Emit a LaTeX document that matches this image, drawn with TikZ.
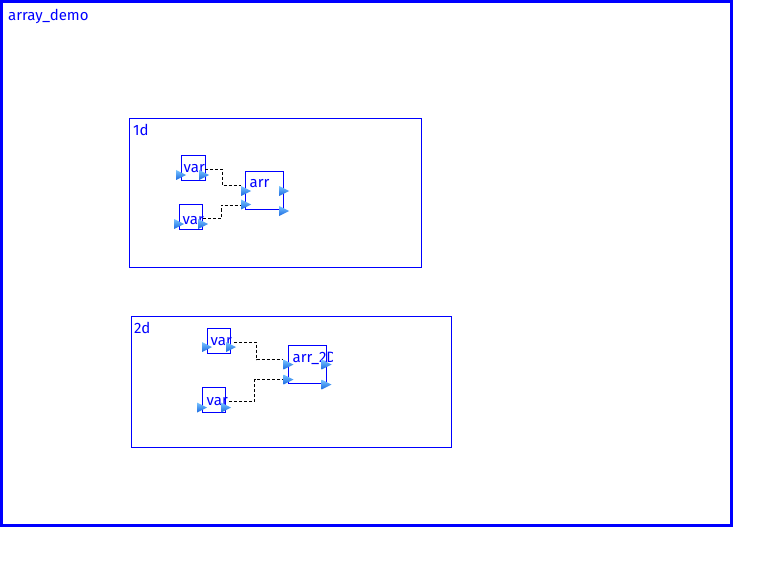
\documentclass[tikz,border=0pt]{standalone}
\usepackage{fontspec}
\setmainfont{Fira Sans}
\usetikzlibrary{positioning,calc}

\definecolor{portlight}{RGB}{120,195,255}
\definecolor{portdark}{RGB}{25,105,225}

\tikzset{
  blk/.style={draw=blue,line width=1pt,inner sep=0pt,outer sep=0pt,anchor=north west},
  lbl/.style={text=blue,inner sep=0pt,anchor=base west,font=\fontsize{15}{17}\selectfont},
  wire/.style={densely dashed,line width=0.8pt,black},
}
% port triangle, centred at (#1,#2)
\newcommand{\portarrow}[2]{%
  \shade[top color=portlight,bottom color=portdark,draw=none]
    (#1-5,#2-5) -- (#1+5,#2) -- (#1-5,#2+5) -- cycle;
}

\begin{document}
\begin{tikzpicture}[x=1pt,y=-1pt]
\useasboundingbox (0,0) rectangle (783,577);

% outer frame
\node[blk,line width=3pt,minimum width=730,minimum height=523.5] (demo) at (1.5,1.5) {};
\node[lbl] (demolbl) at (8,21) {array\_demo};

% 1d
\node[blk,minimum width=292,minimum height=149] (box1d) at (129.5,118.5) {};
\node[lbl] (lbl1d) at (133,135.5) {1d};
\node[blk,minimum width=24,minimum height=25] (var1) at (181.5,155.5) {};
\node[blk,minimum width=23,minimum height=25] (var2) at (179.5,204.5) {};
\node[blk,minimum width=38,minimum height=38] (arr) at (245.5,171.5) {};
\node[lbl] (t1) at (183.5,173) {var};
\node[lbl] (t2) at (182.5,224.5) {var};
\node[lbl] (t3) at (249.5,188) {arr};

\coordinate (v1o) at (205,169);
\coordinate (v2o) at (203,218.5);
\coordinate (ai1) at (241,185.5);
\coordinate (ai2) at (241,205);
\draw[wire] (v1o) -- ++(17,0) |- (ai1);
\draw[wire] (v2o) -- ++(18,0) |- (ai2);

\foreach \x/\y in {181/175,204/175,179/224,203/224,246/191,246/204.5,284/191,284/211} {
  \portarrow{\x}{\y}
}

% 2d
\node[blk,minimum width=320,minimum height=131] (box2d) at (131.5,316.5) {};
\node[lbl] (lbl2d) at (134,333.5) {2d};
\node[blk,minimum width=23,minimum height=25] (var3) at (207.5,328.5) {};
\node[blk,minimum width=23,minimum height=25] (var4) at (202.5,387.5) {};
\node[blk,minimum width=38,minimum height=38] (arr2) at (288.5,345.5) {};
\node[lbl] (t4) at (210.5,345.5) {var};
\node[lbl] (t5) at (206.5,405) {var};
\begin{scope}
  \clip (288,340) rectangle (332,390);
  \node[lbl] (t6) at (292.5,362) {arr\_2D};
\end{scope}

\coordinate (v3o) at (234,342);
\coordinate (v4o) at (229,401.5);
\coordinate (bi1) at (283,359.5);
\coordinate (bi2) at (283,379.5);
\draw[wire] (v3o) -- (256.5,342) |- (bi1);
\draw[wire] (v4o) -- (254.5,401.5) |- (bi2);

\foreach \x/\y in {207/347,231/347,202/407.5,226/407.5,288.5/364.5,288.5/379.5,326.5/364.5,326.5/384.5} {
  \portarrow{\x}{\y}
}

\end{tikzpicture}
\end{document}
